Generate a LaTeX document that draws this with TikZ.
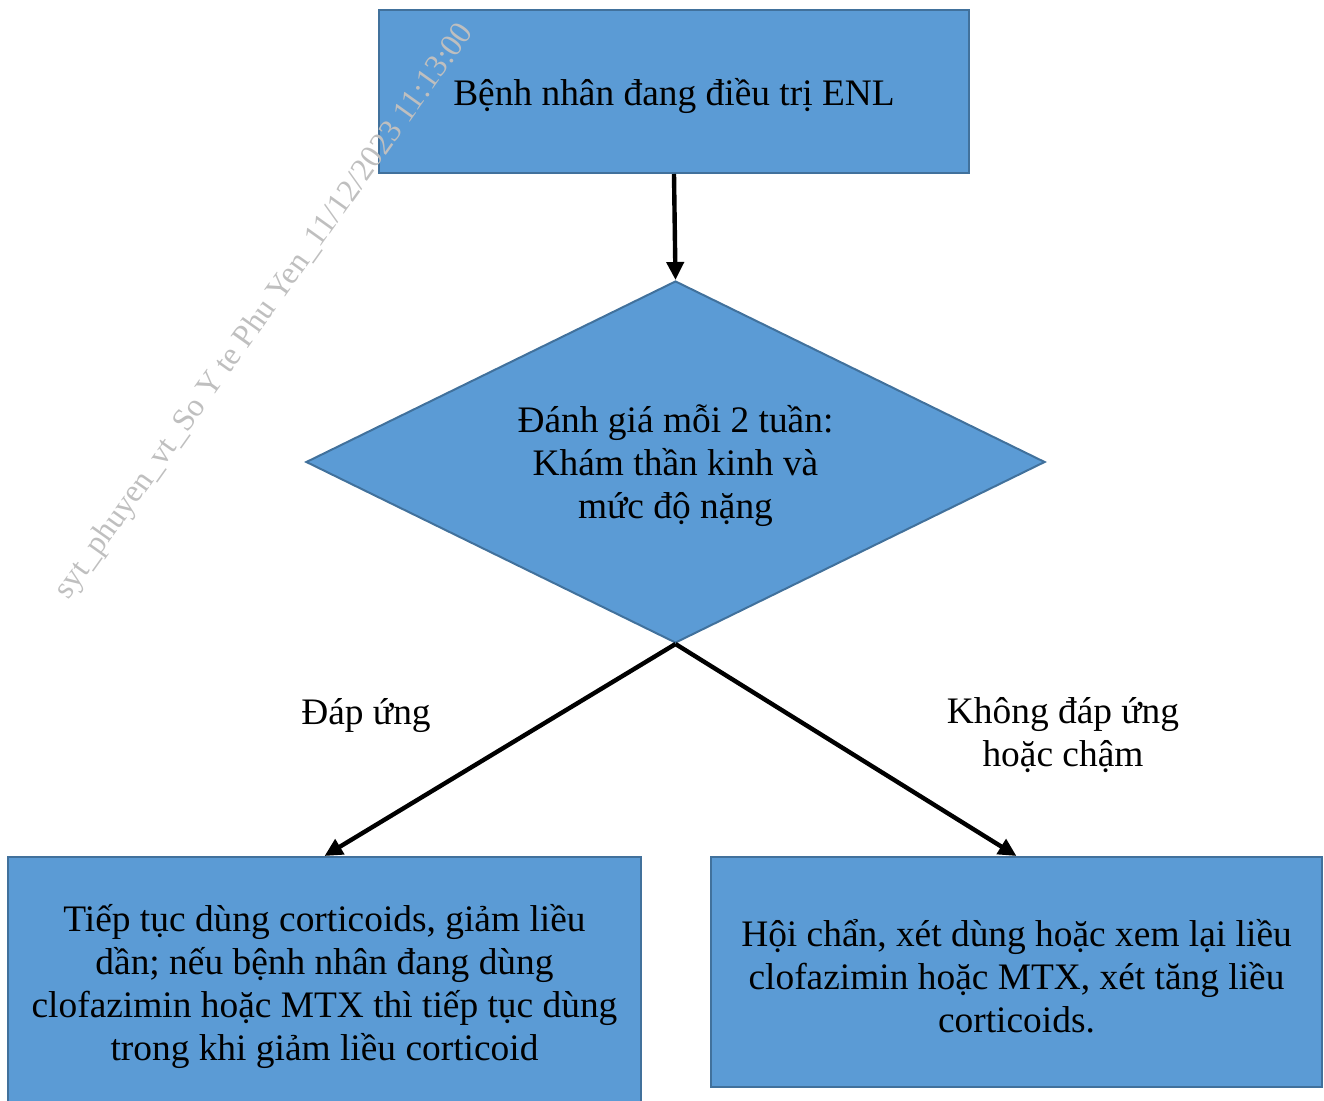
\documentclass[tikz,border=0pt]{standalone}
\usepackage{fontspec}
\setmainfont{Liberation Serif}
\usetikzlibrary{positioning,shapes.geometric,arrows.meta}
\definecolor{boxblue}{HTML}{5B9BD5}
\definecolor{boxline}{HTML}{41719C}
\newcommand{\lowtext}[1]{\raisebox{-2pt}[\height][\depth]{#1}}
\tikzset{
  box/.style={draw=boxline,fill=boxblue,line width=1pt,align=center,inner sep=0pt},
  flow/.style={-{Triangle[length=9pt,width=8.5pt]},line width=2.2pt},
}

\begin{document}
\begin{tikzpicture}[x=0.5pt,y=-0.5pt,font=\fontsize{18.7}{21.5}\selectfont]
\useasboundingbox (0,0) rectangle (1324,1101);
\clip (0,0) rectangle (1324,1101);
% boxes
\node[box,minimum width=295pt,minimum height=81.5pt] (top) at (674,91.5)
{\lowtext{Bệnh nhân đang điều trị ENL}};
\node[box,diamond,aspect=2,minimum width=369.5pt,minimum height=181pt] (assess) at (675.5,462)
{\lowtext{\parbox{200pt}{\centering Đánh giá mỗi 2 tuần:\\Khám thần kinh và\\mức độ nặng}}};
\node[box,minimum width=316.5pt,minimum height=125pt] (ok) at (324.5,982)
{\lowtext{\parbox{316pt}{\centering Tiếp tục dùng corticoids, giảm liều\\dần; nếu bệnh nhân đang dùng\\clofazimin hoặc MTX thì tiếp tục dùng\\trong khi giảm liều corticoid}}};
\node[box,minimum width=305.5pt,minimum height=115pt] (notok) at (1016.5,972)
{\lowtext{\parbox{305pt}{\centering Hội chẩn, xét dùng hoặc xem lại liều\\clofazimin hoặc MTX, xét tăng liều\\corticoids.}}};
% labels
\node (yes) at (366,716) {Đáp ứng};
\node[align=center] (no) at (1063,735) {Không đáp ứng\\hoặc chậm};
% arrows
\draw[flow] (top.south) -- (assess.north);
\draw[flow] (assess.south) -- (ok.north);
\draw[flow] (assess.south) -- (notok.north);
% watermark
\node[text=gray!50,rotate=54.5,font=\fontsize{16}{18}\selectfont] (mark) at (265,312)
{syt\_phuyen\_vt\_So Y te Phu Yen\_11/12/2023 11:13:00};
\end{tikzpicture}
\end{document}
